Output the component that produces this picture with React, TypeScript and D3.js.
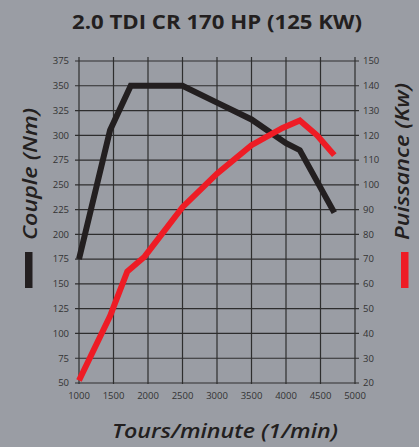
import React from "react";
import * as d3 from "d3";

const W = 419;
const H = 447;

const title = "2.0 TDI CR 170 HP (125 KW)";
const leftTitle = "Couple (Nm)";
const rightTitle = "Puissance (Kw)";
const bottomTitle = "Tours/minute (1/min)";

const rpmTicks = [1000, 1500, 2000, 2500, 3000, 3500, 4000, 4500, 5000];
const torqueTicks = [50, 75, 100, 125, 150, 175, 200, 225, 250, 275, 300, 325, 350, 375];
const powerTicks = [20, 30, 40, 50, 60, 70, 80, 90, 100, 110, 120, 130, 140, 150];

const torqueRpm = [1000, 1450, 1750, 2500, 3000, 3500, 4000, 4200, 4700];
const torqueNm = [175, 305, 350, 350, 333, 316, 292, 285, 222];

const powerRpm = [1000, 1450, 1700, 1950, 2500, 3000, 3500, 3950, 4200, 4450, 4700];
const powerKw = [21, 47, 65, 71, 91, 104.5, 116, 123, 126, 120, 112];

const BG = "#9a9da4";
const INK = "#231f20";
const RED = "#ee1c25";
const GRID = "#2e2e2e";
const LABEL = "#333333";
const FONT = "'Open Sans', 'DejaVu Sans', sans-serif";

export default function App() {
  const x = d3.scaleLinear().domain([1000, 5000]).range([79, 355]);
  const yL = d3.scaleLinear().domain([50, 375]).range([383, 61]);
  const yR = d3.scaleLinear().domain([20, 150]).range([383, 61]);

  const torquePts: [number, number][] = torqueRpm.map((r, i) => [r, torqueNm[i]]);
  const powerPts: [number, number][] = powerRpm.map((r, i) => [r, powerKw[i]]);

  const torqueLine = d3
    .line<[number, number]>()
    .x((d) => x(d[0]))
    .y((d) => yL(d[1]))(torquePts);
  const powerLine = d3
    .line<[number, number]>()
    .x((d) => x(d[0]))
    .y((d) => yR(d[1]))(powerPts);

  const top = yL(375);
  const bottom = yL(50);
  const left = x(1000);
  const right = x(5000);

  return (
    <div style={{ position: "fixed", left: 0, top: 0, width: W, height: H }}>
      <svg width={W} height={H} style={{ display: "block" }}>
        <rect x={0} y={0} width={W} height={H} fill={BG} />
        <text
          x={217}
          y={29}
          textAnchor="middle"
          fontFamily={FONT}
          fontWeight={700}
          fontSize={20}
          fill={INK}
          textLength={290}
          lengthAdjust="spacingAndGlyphs"
        >
          {title}
        </text>

        {torqueTicks.map((t) => (
          <line
            key={"h" + t}
            x1={left - 4}
            x2={right + 4}
            y1={yL(t)}
            y2={yL(t)}
            stroke={GRID}
            strokeWidth={1.2}
          />
        ))}
        {rpmTicks.map((t) => (
          <line
            key={"v" + t}
            x1={x(t)}
            x2={x(t)}
            y1={top - 4}
            y2={bottom + 1}
            stroke={GRID}
            strokeWidth={1.2}
          />
        ))}

        {torqueTicks.map((t) => (
          <text
            key={"l" + t}
            x={69}
            y={yL(t)}
            dy="0.35em"
            textAnchor="end"
            fontFamily={FONT}
            fontSize={9.5}
            fill={LABEL}
          >
            {t}
          </text>
        ))}
        {powerTicks.map((t) => (
          <text
            key={"r" + t}
            x={363}
            y={yR(t)}
            dy="0.35em"
            textAnchor="start"
            fontFamily={FONT}
            fontSize={9.5}
            fill={LABEL}
          >
            {t}
          </text>
        ))}
        {rpmTicks.map((t) => (
          <text
            key={"b" + t}
            x={x(t)}
            y={398.5}
            textAnchor="middle"
            fontFamily={FONT}
            fontSize={9.5}
            fill={LABEL}
          >
            {t}
          </text>
        ))}

        <path
          d={torqueLine || ""}
          fill="none"
          stroke={INK}
          strokeWidth={6}
          strokeLinejoin="miter"
          strokeLinecap="butt"
        />
        <path
          d={powerLine || ""}
          fill="none"
          stroke={RED}
          strokeWidth={6}
          strokeLinejoin="miter"
          strokeLinecap="butt"
        />

        <text
          transform="translate(37,240) rotate(-90)"
          textAnchor="start"
          fontFamily={FONT}
          fontStyle="italic"
          fontWeight={600}
          fontSize={20}
          fill={INK}
          textLength={132}
          lengthAdjust="spacingAndGlyphs"
        >
          {leftTitle}
        </text>
        <rect x={25} y={252} width={7.5} height={36} fill={INK} />

        <text
          transform="translate(409,240) rotate(-90)"
          textAnchor="start"
          fontFamily={FONT}
          fontStyle="italic"
          fontWeight={600}
          fontSize={20}
          fill={INK}
          textLength={157}
          lengthAdjust="spacingAndGlyphs"
        >
          {rightTitle}
        </text>
        <rect x={401} y={252} width={7.5} height={36} fill={RED} />

        <text
          x={225}
          y={438}
          textAnchor="middle"
          fontFamily={FONT}
          fontStyle="italic"
          fontWeight={600}
          fontSize={20}
          fill={INK}
          textLength={226}
          lengthAdjust="spacingAndGlyphs"
        >
          {bottomTitle}
        </text>
      </svg>
    </div>
  );
}
